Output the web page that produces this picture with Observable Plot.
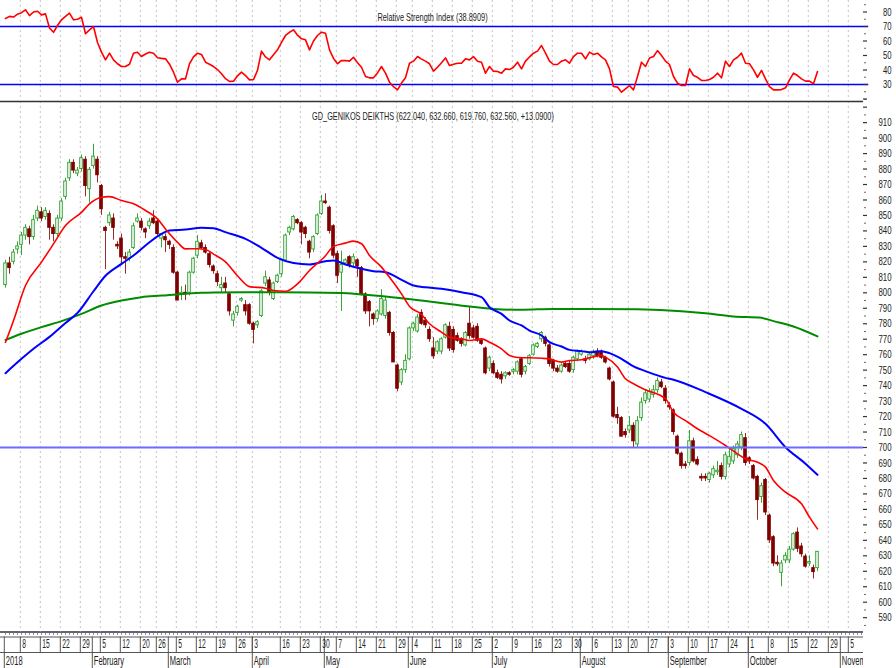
<!DOCTYPE html>
<html><head><meta charset="utf-8">
<script src="https://cdn.jsdelivr.net/npm/d3@7"></script>
<script src="https://cdn.jsdelivr.net/npm/@observablehq/plot@0.6"></script>
<style>
html,body{margin:0;padding:0;background:#fff;}
#chart{position:relative;width:896px;height:668px;overflow:hidden;background:#fff;}
#chart svg{position:absolute;left:0;max-width:none !important;}
#strip{position:absolute;left:0;top:631px;width:863px;height:37px;overflow:hidden;}
</style></head><body><div id="chart"><div id="strip"></div></div>
<script>
// ---------------- DATA ----------------
const firstDay = "2018-01-02";
const lastCalendarDay = "2018-11-13";
const holidays = ["2018-02-19","2018-03-30","2018-04-02","2018-04-06","2018-04-09","2018-05-01","2018-05-28","2018-08-15"];

const open = [805,819,820,828,831,837,841,836,848,852, 849,851,842,838,848,862,874,884,877,880,
886,867,882,886,869,842,845,848,831,835, 823,822,829,846,846,841,843,848,846,835,
836,833,829,813,799,800,800,813,824,832, 829,825,817,812,803,806,799,782,787,795,
792,792,780,779,785,806,808,796,807,812, 821,839,841,847,845,842,833,828,838,851,
859,855,843,825,813,819,823,819,821,816, 799,794,786,783,786,785,787,774,753,742,
750,757,777,775,787,782,776,764,762,762, 771,778,776,772,770,766,780,777,778,769,
764,751,754,748,747,746,748,749,749,757, 749,754,760,765,770,771,766,756,751,749,
754,754,750,757,760,757,757,759,762,762, 758,751,742,721,719,710,711,714,702,719,
730,731,734,737,742,738,727,724,707,696, 689,690,704,692,681,681,679,682,684,688,
681,689,691,695,700,706,693,688,681,668, 679,656,642,625.5,619,627,627,634,645,636,
629.5,625,622,622.04];
const high = [821,823,828,833,839,844,843,850,856,855, 855,853,844,850,861,874,886,886,881,889,
888,881,896,888,870,843,852,851,833,838, 826,828,845,851,848,842,848,853,847,838,
838,834,831,814,804,805,814,823,837,834, 831,826,818,814,810,810,800,788,792,797,
795,793,781,782,802,814,810,807,812,822, 838,843,850,848,846,843,834,837,851,863,
864,856,844,827,827,822,824,825,822,817, 800,795,787,789,802,797,788,775,754,751,
760,778,781,786,789,784,778,771,769,771, 780,781,778,774,771,775,791,779,780,770,
765,759,756,750,749,749,749,751,756,758, 753,760,767,768,775,772,767,757,753,754,
755,756,759,763,763,759,761,763,764,763, 759,752,743,726,720,712,720,716,720,732,
737,738,740,745,744,740,729,725,708,697, 691,711,706,694,683,683,684,688,691,690,
697,700,701,704,710,709,694,689,682,677, 680,657,643,630,627,632,636,645,648,638,
631,630,624,632.66];
const low = [803,812,818,825,824,834,831,834,846,846, 847,834,833,836,846,860,872,877,875,878,
862,858,880,871,850,815,843,834,828,819, 812,820,828,845,840,835,841,844,837,829,
826,828,812,795,795,795,798,812,822,828, 825,816,812,804,800,800,785,778,785,794,
785,779,767,777,784,804,798,795,806,810, 820,837,840,844,831,835,822,826,837,850,
857,838,822,806,788,818,816,817,810,798, 786,778,779,781,785,783,772,755,736,740,
748,756,775,774,779,777,768,757,760,760, 770,762,761,768,765,765,770,770,768,766,
747,749,747,744,741,744,746,747,747,745, 747,753,759,764,768,765,752,749,748,748,
751,748,748,756,759,754,756,757,758,757, 754,743,719,715,707,706,709,700,700,717,
728,729,732,735,738,728,724,708,695,686, 686,688,690,688,678,678,677,680,682,679,
679,687,689,693,698,688,689,679,653,664, 656,638,623,623,610,625,625,633,632,629,
622,623,615,619.76];
const close = [819,816,826,830,837,842,836,847,853,848, 853,842,838,848,859,872,884,879,879,887,
869,879.5,888,876,854,840,850,842,830,823, 822,826,843,848,842,839,846,845,838,838,
834,831,813,795,800,799,813,822,833,829, 826,818,814,807,805,803,788,786,791,796,
788,780,776,781,801,810,800,806,811,821, 837,842,849,845,839,838,826,836,850,859,
858,840,824,811,818,821,818,823,817,799, 788,788,783,788,796,795,774,755,738,750,
756,777,780,784,780,779,770,759,768,770, 779,764,763,769,767,774,772,771,769,767,
748,758,748,745,744,748,747,750,755,747, 752,759,766,767,774,767,754,751,749,753,
752,749,758,762,762,756,760,762,759,758, 755,744,720,719,707,708,714,704,717,729,
735,736,737,743,739,730,726,710,696,688, 688,704,691,689,680,680,683,686,685,681,
695,694,699,702,708,690,691,680,666,675, 658,640,625,624.5,625,630,634,644,634.5,631,
623,626,619.47,632.56];

const rsiValues = [75.5,77,76.5,78.5,79.5,81.5,77.5,80,80.5,78, 78.7,69,66,70.7,74.6,77,79.2,74.6,75,76.4,
65,67.7,70,59,52.3,47,51.6,47,44.3,42.4, 42.4,44,51.6,52.3,49.3,51,52.3,51.6,48.5,48,
47.7,44,38.5,31.6,33.9,33.9,44.3,49,51.6,50.7, 45.4,44,42.4,40.3,37.4,34,32.1,32.3,36,38.5,
36.2,33.2,33.4,39.7,53,49,47,50.5,53.9,59, 63.8,66,67.7,64,61.5,60.8,53.9,60,63.8,66.1,
65.4,53.9,48,44.3,46.6,46.5,46.1,48.8,45,41.9, 35.5,34.6,34.6,38,42.4,37.8,31.6,28.5,26.3,31,
34.6,44.7,46.1,49.3,47.5,46.1,44.3,39.2,41.9,45, 48.3,43.1,44,44.7,44.7,47.7,47,49.3,46.1,45.4,
37.8,42.4,39.2,39,37.8,40.8,40.3,41.9,45.4,40.8, 46.1,49,51.6,53,56.9,51.6,46.1,43.8,43.8,46.1,
47,44.7,49.3,51.6,51.6,47.7,52.3,50.7,51.6,49, 47,40.8,28.6,28.2,24.7,27,29.3,26.3,35.5,45.4,
42.4,48.3,49.3,53.4,50,46.1,43.8,35.5,30.9,29.3, 29.3,40.8,36.2,35,32.8,32.8,33.5,35,37.8,34.6,
46.1,42.4,47,48.8,51.6,44.7,44.3,40.1,35,39.7, 33.9,28.6,26.3,26.3,26.5,27.7,33.2,37.8,36.2,33.9,
32.3,32.3,30.5,38.89];
const rsiBands = [30, 70];
const rsiTickLabels = [30, 40, 50, 60, 70, 80];

// moving averages, read as [trading day, value]
const maShort = [[0,768],[2,782],[5,804.7],[9,819.8],[12,831.6],[15,843.5],[19,852],[21,857.5],[24,861.8],[26,862.2],[29,859.6],[32,857.5],[35,853.2],[38,847.8],[40,841.3],[43,832.7],[45,828.4],[48,828.5],[50,828],[52,825],[55,820],[58,811],[61,804],[65,803],[67,801.5],[70,801],[73,805.8],[76,814.4],[80,824],[82,830],[85,832.1],[87,833.4],[89,831.7],[91,824.1],[94,816.6],[96,810],[99,799.3],[101,791.2],[104,786],[106,780],[109,774.6],[111,771.3],[114,770.2],[116,769.2],[119,770.2],[121,768.1],[124,763.8],[126,759.5],[129,758],[131,758],[134,757.7],[136,757.3],[139,755.2],[141,756.2],[144,756.7],[146,758],[149,759.5],[150,758.4],[153,752],[155,744.4],[157,741.2],[160,737.3],[165,731.5],[167,722.8],[170,717.4],[173,712.1],[176,707.7],[180,701.3],[183,695.9],[185,692.7],[188,690.5],[190,687.3],[192,678.7],[195,671.1],[199,663.6],[201,655],[203,647.4]];
const maMid = [[0,748],[4,757.3],[7,763.8],[11,771.5],[15,780.5],[18,787],[22,801],[25,811],[29,818.7],[32,824.1],[35,830.6],[39,838.1],[41,840.3],[45,840.9],[49,842],[52,841.8],[55,839.2],[60,834.9],[64,829.1],[68,822.6],[72,819.2],[76,818.3],[80,820.4],[82,820.9],[85,818.3],[89,815.5],[92,814],[95,813.3],[99,808.4],[102,804.7],[105,803.6],[109,802.6],[114,800.4],[119,797.2],[121,790.7],[124,786.4],[126,782.1],[129,778.9],[131,775.6],[134,772.4],[136,768.1],[139,765.3],[141,763.1],[144,762.3],[146,761.6],[149,762.3],[151,761],[154,757.3],[157,752.4],[160,749.4],[165,745],[167,743.8],[175,735.8],[184,725],[190,715.3],[195,700.2],[200,689.5],[203,682.3]];
const maLong = [[0,769.5],[4,773.5],[9,777.8],[14,781.7],[19,786.4],[24,791.8],[29,795],[34,797.2],[39,798.2],[44,799.3],[49,800],[52,800.2],[60,800.4],[68,800.4],[84,799.8],[89,798.9],[95,797.6],[104,795],[112,792.4],[116,791.1],[122,789.6],[129,789],[137,789.6],[145,789.6],[158,789.3],[169,788.1],[175,786.8],[182,784.7],[189,783.8],[192,781.7],[197,778.2],[203,771.8]];
const supportLevel = [700];
const priceTickLabels = [590,600,610,620,630,640,650,660,670,680,690,700,710,720,730,740,750,760,770,780,790,800,810,820,830,840,850,860,870,880,890,900,910];

const weekLabelDates = ["2018-01-08","2018-01-15","2018-01-22","2018-01-29","2018-02-05","2018-02-12","2018-02-20","2018-02-26","2018-03-05","2018-03-12","2018-03-19","2018-03-26","2018-04-03","2018-04-16","2018-04-23","2018-04-30","2018-05-07","2018-05-14","2018-05-21","2018-05-29","2018-06-04","2018-06-11","2018-06-18","2018-06-25","2018-07-02","2018-07-09","2018-07-16","2018-07-23","2018-07-30","2018-08-06","2018-08-13","2018-08-20","2018-08-27","2018-09-03","2018-09-10","2018-09-17","2018-09-24","2018-10-01","2018-10-08","2018-10-15","2018-10-22","2018-10-29","2018-11-05"];
const monthStartDates = ["2018-01-02","2018-02-01","2018-03-01","2018-04-03","2018-05-02","2018-06-01","2018-07-02","2018-08-01","2018-09-03","2018-10-01","2018-11-01"];
const monthNames = ["2018","February","March","April","May","June","July","August","September","October","November"];

const rsiTitle = "Relative Strength Index (38.8909)";
const priceTitle = "GD_GENIKOS DEIKTHS (622.040, 632.660, 619.760, 632.560, +13.0900)";

// ---------------- BUILD ----------------
const fmt = d3.utcFormat("%Y-%m-%d");
const hol = new Set(holidays);
const days = d3.utcDay.range(new Date(firstDay), new Date(lastCalendarDay))
  .filter(d => d.getUTCDay() > 0 && d.getUTCDay() < 6 && !hol.has(fmt(d)));
const dayIndex = new Map(days.map((d, i) => [fmt(d), i]));

const X_DOMAIN = [-1.25, 213.25];
const X_END = 214.5;              // axis lines run a little past the frame
const xOpt = {domain: X_DOMAIN, range: [0, 858], axis: null, label: null};
const FONT = "Liberation Sans, Arial, sans-serif";
const gridDays = weekLabelDates.map(s => dayIndex.get(s));
const weeks = weekLabelDates.map(s => ({day: dayIndex.get(s), label: String(new Date(s).getUTCDate())}));
const months = monthStartDates.map((s, k) => ({day: dayIndex.get(s), label: monthNames[k]}));

const candles = close.map((c, i) => ({day: i, o: open[i], h: high[i], l: low[i], c}));
const ups = candles.filter(d => d.c >= d.o);
const downs = candles.filter(d => d.c < d.o);
const UP = "#35a535", DOWN = "#800000", WICK_DN = "#9a2b2b";
const GRID = {stroke: "#c4c4c4", strokeDasharray: "2,3", strokeWidth: 1};

const chart = document.getElementById("chart");

// RSI panel
const RSI_DOMAIN = [18.97, 87.93];
const rsiSvg = Plot.plot({
  width: 896, height: 99, marginTop: 0, marginBottom: 0, marginLeft: 0, marginRight: 38,
  style: {fontFamily: FONT, fontSize: "11px", background: "transparent", color: "#222", overflow: "visible"},
  x: xOpt,
  y: {domain: RSI_DOMAIN, range: [100, 0], label: null},
  marks: [
    Plot.ruleX(gridDays, {x: d => d - 0.3, ...GRID}),
    Plot.ruleY(rsiBands, {x1: X_DOMAIN[0], x2: 215.8, stroke: "#0000ff", strokeWidth: 1.6}),
    Plot.line(rsiValues, {x: (d, i) => i, y: d => d, stroke: "#ff0000", strokeWidth: 1.6}),
    Plot.text([rsiTitle], {text: d => d, frameAnchor: "top", dy: 12.5, dx: 3, fontSize: 11, fill: "#222"}),
    Plot.ruleY(d3.range(20, 90, 10), {x1: X_END, x2: X_END + 1, stroke: "#333", strokeWidth: 1.2}),
    Plot.ruleY(d3.range(25, 90, 10), {x1: X_END + 0.3, x2: X_END + 0.7, stroke: "#444", strokeWidth: 1}),
    Plot.axisY(rsiTickLabels, {anchor: "right", tickSize: 0, tickPadding: 0, textAnchor: "end", dx: 33, fontSize: 11, fill: "#222"})
  ]
});
rsiSvg.style.top = "0px";
chart.appendChild(rsiSvg);

// Price panel
const PRICE_DOMAIN = [580.74, 923.66];
const priceSvg = Plot.plot({
  width: 896, height: 533, marginTop: 2, marginBottom: 0.5, marginLeft: 0, marginRight: 38,
  style: {fontFamily: FONT, fontSize: "11px", background: "transparent", color: "#222", overflow: "visible"},
  x: xOpt,
  y: {domain: PRICE_DOMAIN, range: [532.5, 2], label: null},
  marks: [
    Plot.ruleX(gridDays, {x: d => d - 0.3, ...GRID}),
    Plot.ruleX(ups, {x: "day", y1: "l", y2: "h", stroke: UP}),
    Plot.ruleX(downs, {x: "day", y1: "l", y2: "h", stroke: WICK_DN}),
    Plot.rect(ups, {x1: d => d.day - 0.32, x2: d => d.day + 0.32, y1: "o", y2: "c", fill: "white", stroke: UP}),
    Plot.rect(downs, {x1: d => d.day - 0.32, x2: d => d.day + 0.32, y1: "o", y2: "c", fill: DOWN, stroke: DOWN}),
    Plot.line(maLong, {x: d => d[0], y: d => d[1], stroke: "#008c00", strokeWidth: 2, curve: "monotone-x"}),
    Plot.line(maMid, {x: d => d[0], y: d => d[1], stroke: "#0000ff", strokeWidth: 2, curve: "monotone-x"}),
    Plot.line(maShort, {x: d => d[0], y: d => d[1], stroke: "#ff0000", strokeWidth: 1.6, curve: "monotone-x"}),
    Plot.ruleY(supportLevel, {x1: X_DOMAIN[0], x2: X_END, stroke: "#6c6cff", strokeWidth: 2}),
    Plot.ruleY([PRICE_DOMAIN[1]], {x1: X_DOMAIN[0], x2: X_END, stroke: "#333", strokeWidth: 1.5}),
    Plot.text([priceTitle], {text: d => d, frameAnchor: "top", dy: 10.5, dx: 3.5, fontSize: 11, fill: "#222"}),
    Plot.ruleY(d3.range(590, 921, 10), {x1: X_END, x2: X_END + 1, stroke: "#333", strokeWidth: 1.2}),
    Plot.ruleY(d3.range(585, 926, 10), {x1: X_END + 0.3, x2: X_END + 0.7, stroke: "#444", strokeWidth: 1}),
    Plot.axisY(priceTickLabels, {anchor: "right", tickSize: 0, tickPadding: 0, textAnchor: "end", dx: 33, fontSize: 11, fill: "#222"})
  ]
});
priceSvg.style.top = "99px";
chart.appendChild(priceSvg);

// Date axis strip
const stripSvg = Plot.plot({
  width: 896, height: 37, margin: 0, marginRight: 38,
  style: {fontFamily: FONT, fontSize: "12px", background: "transparent", color: "#222", overflow: "visible"},
  x: xOpt,
  y: {domain: [0, 37], range: [0, 37], axis: null, label: null},
  marks: [
    Plot.ruleY([0.6], {x1: X_DOMAIN[0], x2: X_END + 2, stroke: "#333", strokeWidth: 1.5}),
    Plot.ruleX(days.map((d, i) => i).filter(i => i <= 214), {x: d => d, y1: 2.2, y2: 3.8, stroke: "#7070b8", strokeWidth: 1}),
    Plot.ruleY([5.5, 21], {x1: X_DOMAIN[0], x2: X_END + 2, stroke: "#555", strokeWidth: 1}),
    Plot.ruleX(weeks, {x: d => d.day - 0.3, y1: 5.5, y2: 21, stroke: "#555"}),
    Plot.ruleX(months, {x: d => d.day - 0.3, y1: 5.5, y2: 37, stroke: "#555"}),
    Plot.text(weeks, {x: d => d.day - 0.3, y: 13, text: "label", textAnchor: "start", dx: 2, fontSize: 12, fill: "#222"}),
    Plot.text(months, {x: d => d.day - 0.3, y: 29.5, text: "label", textAnchor: "start", dx: 1.5, fontSize: 12, fill: "#222"})
  ]
});
stripSvg.style.top = "0px";
stripSvg.style.maxWidth = "none";
document.getElementById("strip").appendChild(stripSvg);

// condensed lettering like the original terminal font
function squeeze(svg, test, k) {
  svg.querySelectorAll("text").forEach(t => {
    if (!test(t.textContent)) return;
    const w = t.getComputedTextLength();
    if (w > 0) { t.setAttribute("textLength", (w * k).toFixed(2)); t.setAttribute("lengthAdjust", "spacingAndGlyphs"); }
  });
}
squeeze(rsiSvg, s => s.includes("("), 0.67);
squeeze(rsiSvg, s => !s.includes("("), 0.7);
squeeze(priceSvg, s => s.includes("("), 0.665);
squeeze(priceSvg, s => !s.includes("("), 0.71);
squeeze(stripSvg, s => /^\d+$/.test(s) && s.length < 3, 0.56);
squeeze(stripSvg, s => !(/^\d+$/.test(s) && s.length < 3), 0.63);
</script></body></html>
